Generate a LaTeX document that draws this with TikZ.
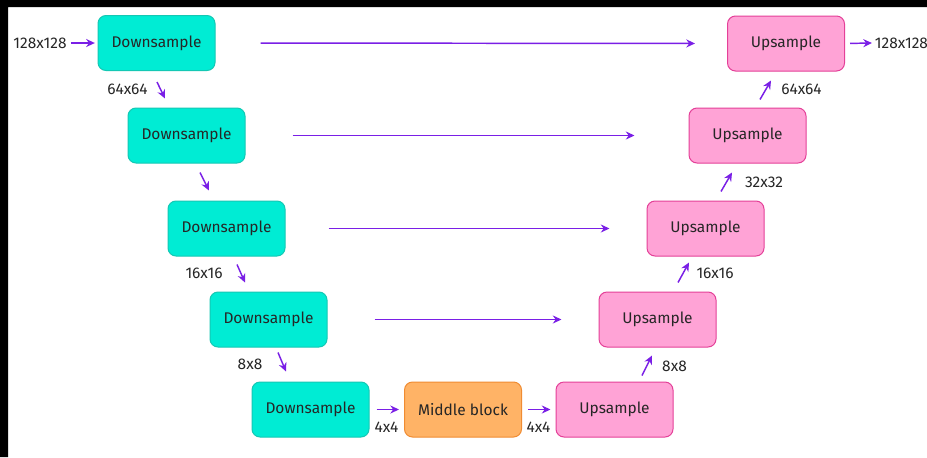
\documentclass[tikz,border=0pt]{standalone}
\usepackage{fontspec}
\setmainfont{Fira Sans}
\usetikzlibrary{arrows.meta,calc}
\definecolor{dsfill}{RGB}{0,236,212}
\definecolor{dsline}{RGB}{20,200,180}
\definecolor{usfill}{RGB}{255,163,214}
\definecolor{usline}{RGB}{228,64,152}
\definecolor{midfill}{RGB}{255,179,102}
\definecolor{midline}{RGB}{240,140,50}
\definecolor{arr}{RGB}{122,31,230}
\begin{document}
\begin{tikzpicture}[x=0.75pt,y=-0.75pt,
    every node/.style={inner sep=2pt,font=\fontsize{11.6}{13}\selectfont,text=black!85},
    box/.style={draw,line width=0.75pt,rounded corners=6pt,minimum width=87.75pt,minimum height=41.25pt},
    dsbox/.style={box,fill=dsfill,draw=dsline},
    usbox/.style={box,fill=usfill,draw=usline},
    midbox/.style={box,fill=midfill,draw=midline},
    >={Stealth[length=6.5pt,width=6pt]},
    link/.style={->,draw=arr,line width=1.1pt}]
    \useasboundingbox(0,0)rectangle(927,457);
    \fill[white](0,0)rectangle(927,457);
    \fill[black](0,0)rectangle(927,7)(0,0)rectangle(8,457);
    % encoder
    \node[dsbox](d1)at(156.5,43){Downsample};
    \node[dsbox](d2)at(186.5,135.5){Downsample};
    \node[dsbox](d3)at(226.5,228.5){Downsample};
    \node[dsbox](d4)at(268.5,319.5){Downsample};
    \node[dsbox](d5)at(310.5,409.5){Downsample};
    \node[midbox](mid)at(463,409.5){Middle block};
    % decoder
    \node[usbox](u5)at(614.5,409.5){Upsample};
    \node[usbox](u4)at(657.5,319.5){Upsample};
    \node[usbox](u3)at(705.5,228.5){Upsample};
    \node[usbox](u2)at(747.5,135.5){Upsample};
    \node[usbox](u1)at(786,43.5){Upsample};
    % sizes
    \node(in)at(40,43){128x128};
    \node[anchor=west](out)at(872,43){128x128};
    \node(s64l)at(127.5,89){64x64};
    \node(s16l)at(204,273){16x16};
    \node(s8l)at(250,364){8x8};
    \node(s4l)at(386.5,427){4x4};
    \node(s4r)at(538.5,427){4x4};
    \node(s8r)at(674.5,366){8x8};
    \node(s16r)at(715,273){16x16};
    \node(s32r)at(764,182){32x32};
    \node(s64r)at(801.5,89){64x64};
    % skip connections
    \draw[link,shorten <=33.75pt,shorten >=24pt](d1.east)--(u1.west);
    \draw[link,shorten <=35.25pt,shorten >=40.5pt](d2.east)--(u2.west);
    \draw[link,shorten <=32.25pt,shorten >=27.75pt](d3.east)--(u3.west);
    \draw[link,shorten <=35.25pt,shorten >=27.75pt](d4.east)--(u4.west);
    % main path
    \draw[link,shorten <=1pt,shorten >=2pt](in.east)--(d1.west);
    \draw[link,shorten <=3.75pt,shorten >=0pt](u1.east)--(out.west);
    \draw[link]($(d1.south)+(0.5,11)$)--($(d2.north)+(-21.5,-9)$);
    \draw[link]($(d2.south)+(13.5,9)$)--($(d3.north)+(-17.5,-10)$);
    \draw[link]($(d3.south)+(10.5,8)$)--($(d4.north)+(-23.5,-9)$);
    \draw[link]($(d4.south)+(9.5,5)$)--($(d5.north)+(-24.5,-10)$);
    \draw[link,shorten <=5.25pt,shorten >=3.75pt](d5.east)--(mid.west);
    \draw[link,shorten <=4.5pt,shorten >=3.75pt](mid.east)--(u5.west);
    \draw[link]($(u5.north)+(27.5,-6)$)--($(u4.south)+(-5.5,8)$);
    \draw[link]($(u4.north)+(20.5,-9)$)--($(u3.south)+(-16.5,6)$);
    \draw[link]($(u3.north)+(15.5,-9)$)--($(u2.south)+(-15.5,9)$);
    \draw[link]($(u2.north)+(12.5,-8)$)--($(u1.south)+(-15,9)$);
\end{tikzpicture}
\end{document}
